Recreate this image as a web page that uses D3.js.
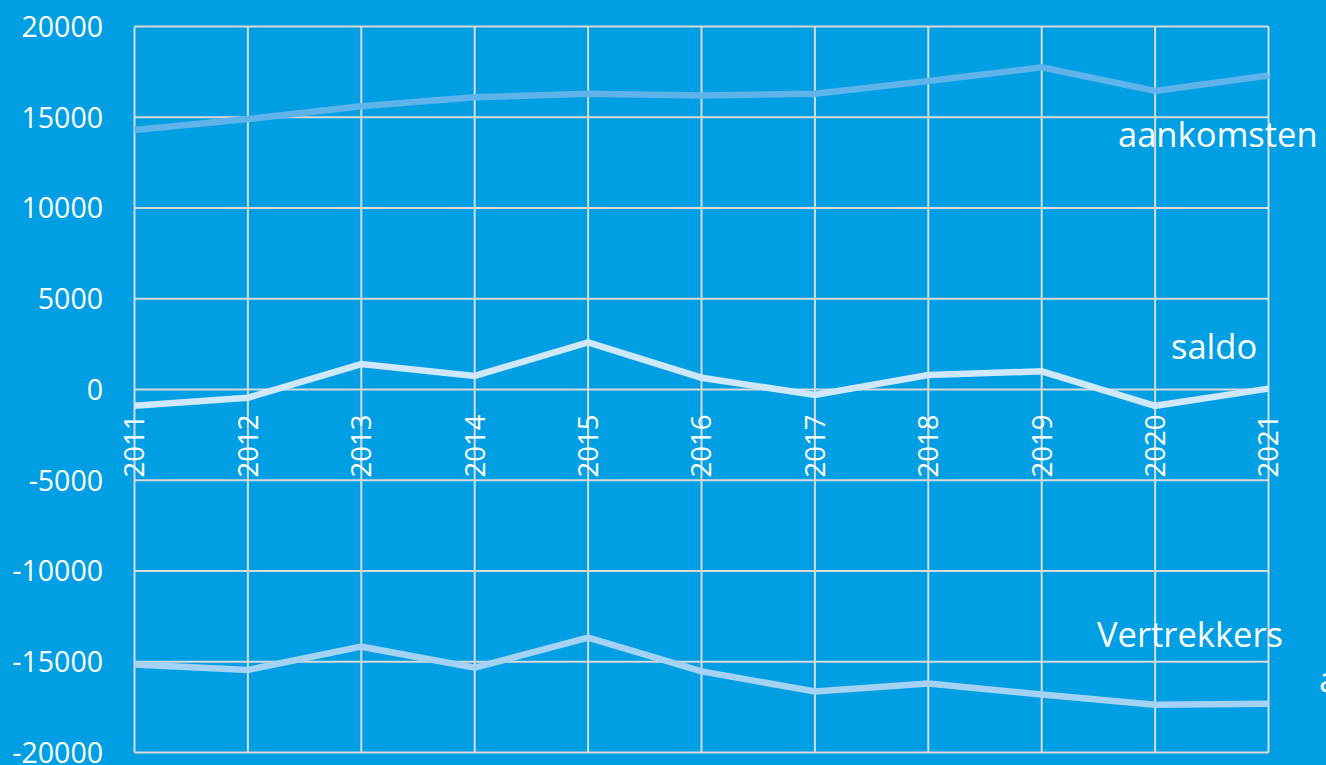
<!DOCTYPE html>
<html>
<head>
<meta charset="utf-8">
<script src="https://cdn.jsdelivr.net/npm/d3@7"></script>
<style>
  html, body { margin: 0; padding: 0; background: #009fe3; overflow: hidden; }
  svg { display: block; }
  text { font-family: 'Open Sans', sans-serif; fill: #ffffff; }
</style>
</head>
<body>
<div id="container"></div>
<script>
const years = ['2011', '2012', '2013', '2014', '2015', '2016', '2017', '2018', '2019', '2020', '2021'];
const aankomsten = [14300, 14900, 15600, 16100, 16300, 16200, 16300, 17000, 17750, 16450, 17300];
const saldo = [-900, -450, 1400, 750, 2600, 650, -300, 800, 1000, -900, 50];
const vertrekkers = [-15150, -15450, -14170, -15330, -13670, -15530, -16640, -16200, -16800, -17370, -17310];
const yTicks = [20000, 15000, 10000, 5000, 0, -5000, -10000, -15000, -20000];

const dimensions = { x: 1326, y: 765 };
const plot = { left: 134.5, right: 1268.5, top: 26.5, bottom: 752.5 };

const svg = d3
  .select('#container')
  .append('svg')
  .attr('width', dimensions.x)
  .attr('height', dimensions.y);

const x = d3.scalePoint().domain(years).range([plot.left, plot.right]);
const y = d3.scaleLinear().domain([-20000, 20000]).range([plot.bottom, plot.top]);

// grid
svg
  .append('g')
  .selectAll('line')
  .data(yTicks)
  .enter()
  .append('line')
  .attr('x1', plot.left)
  .attr('x2', plot.right)
  .attr('y1', (d) => y(d))
  .attr('y2', (d) => y(d))
  .attr('stroke', '#d9d9d9')
  .attr('stroke-width', 2);

svg
  .append('g')
  .selectAll('line')
  .data(years)
  .enter()
  .append('line')
  .attr('x1', (d) => x(d))
  .attr('x2', (d) => x(d))
  .attr('y1', plot.top)
  .attr('y2', plot.bottom)
  .attr('stroke', '#d9d9d9')
  .attr('stroke-width', 2);

// y labels
svg
  .append('g')
  .selectAll('text')
  .data(yTicks)
  .enter()
  .append('text')
  .attr('x', 103)
  .attr('y', (d) => y(d))
  .attr('dy', '0.36em')
  .attr('text-anchor', 'end')
  .style('font-size', '28.5px')
  .text((d) => d);

// x labels, rotated, sitting just below the zero line
svg
  .append('g')
  .selectAll('text')
  .data(years)
  .enter()
  .append('text')
  .attr('transform', (d) => 'translate(' + x(d) + ', ' + (y(0) + 25) + ') rotate(-90)')
  .attr('dy', '0.36em')
  .attr('text-anchor', 'end')
  .style('font-size', '27.5px')
  .text((d) => d);

const series = [
  { name: 'aankomsten', values: aankomsten, color: '#5db3ea' },
  { name: 'saldo', values: saldo, color: '#cfe7fa' },
  { name: 'Vertrekkers', values: vertrekkers, color: '#a3d2f5' },
];

const line = d3
  .line()
  .x((d, i) => x(years[i]))
  .y((d) => y(d));

svg
  .append('g')
  .selectAll('path')
  .data(series)
  .enter()
  .append('path')
  .attr('d', (d) => line(d.values))
  .attr('fill', 'none')
  .attr('stroke', (d) => d.color)
  .attr('stroke-width', 6.5);

// series labels
const labels = [
  { text: 'aankomsten', x: 1118, y: 147 },
  { text: 'saldo', x: 1171, y: 359 },
  { text: 'Vertrekkers', x: 1097, y: 647 },
  { text: 'a', x: 1319, y: 692 },
];

svg
  .append('g')
  .selectAll('text')
  .data(labels)
  .enter()
  .append('text')
  .attr('x', (d) => d.x)
  .attr('y', (d) => d.y)
  .style('font-size', '34.5px')
  .text((d) => d.text);
</script>
</body>
</html>
